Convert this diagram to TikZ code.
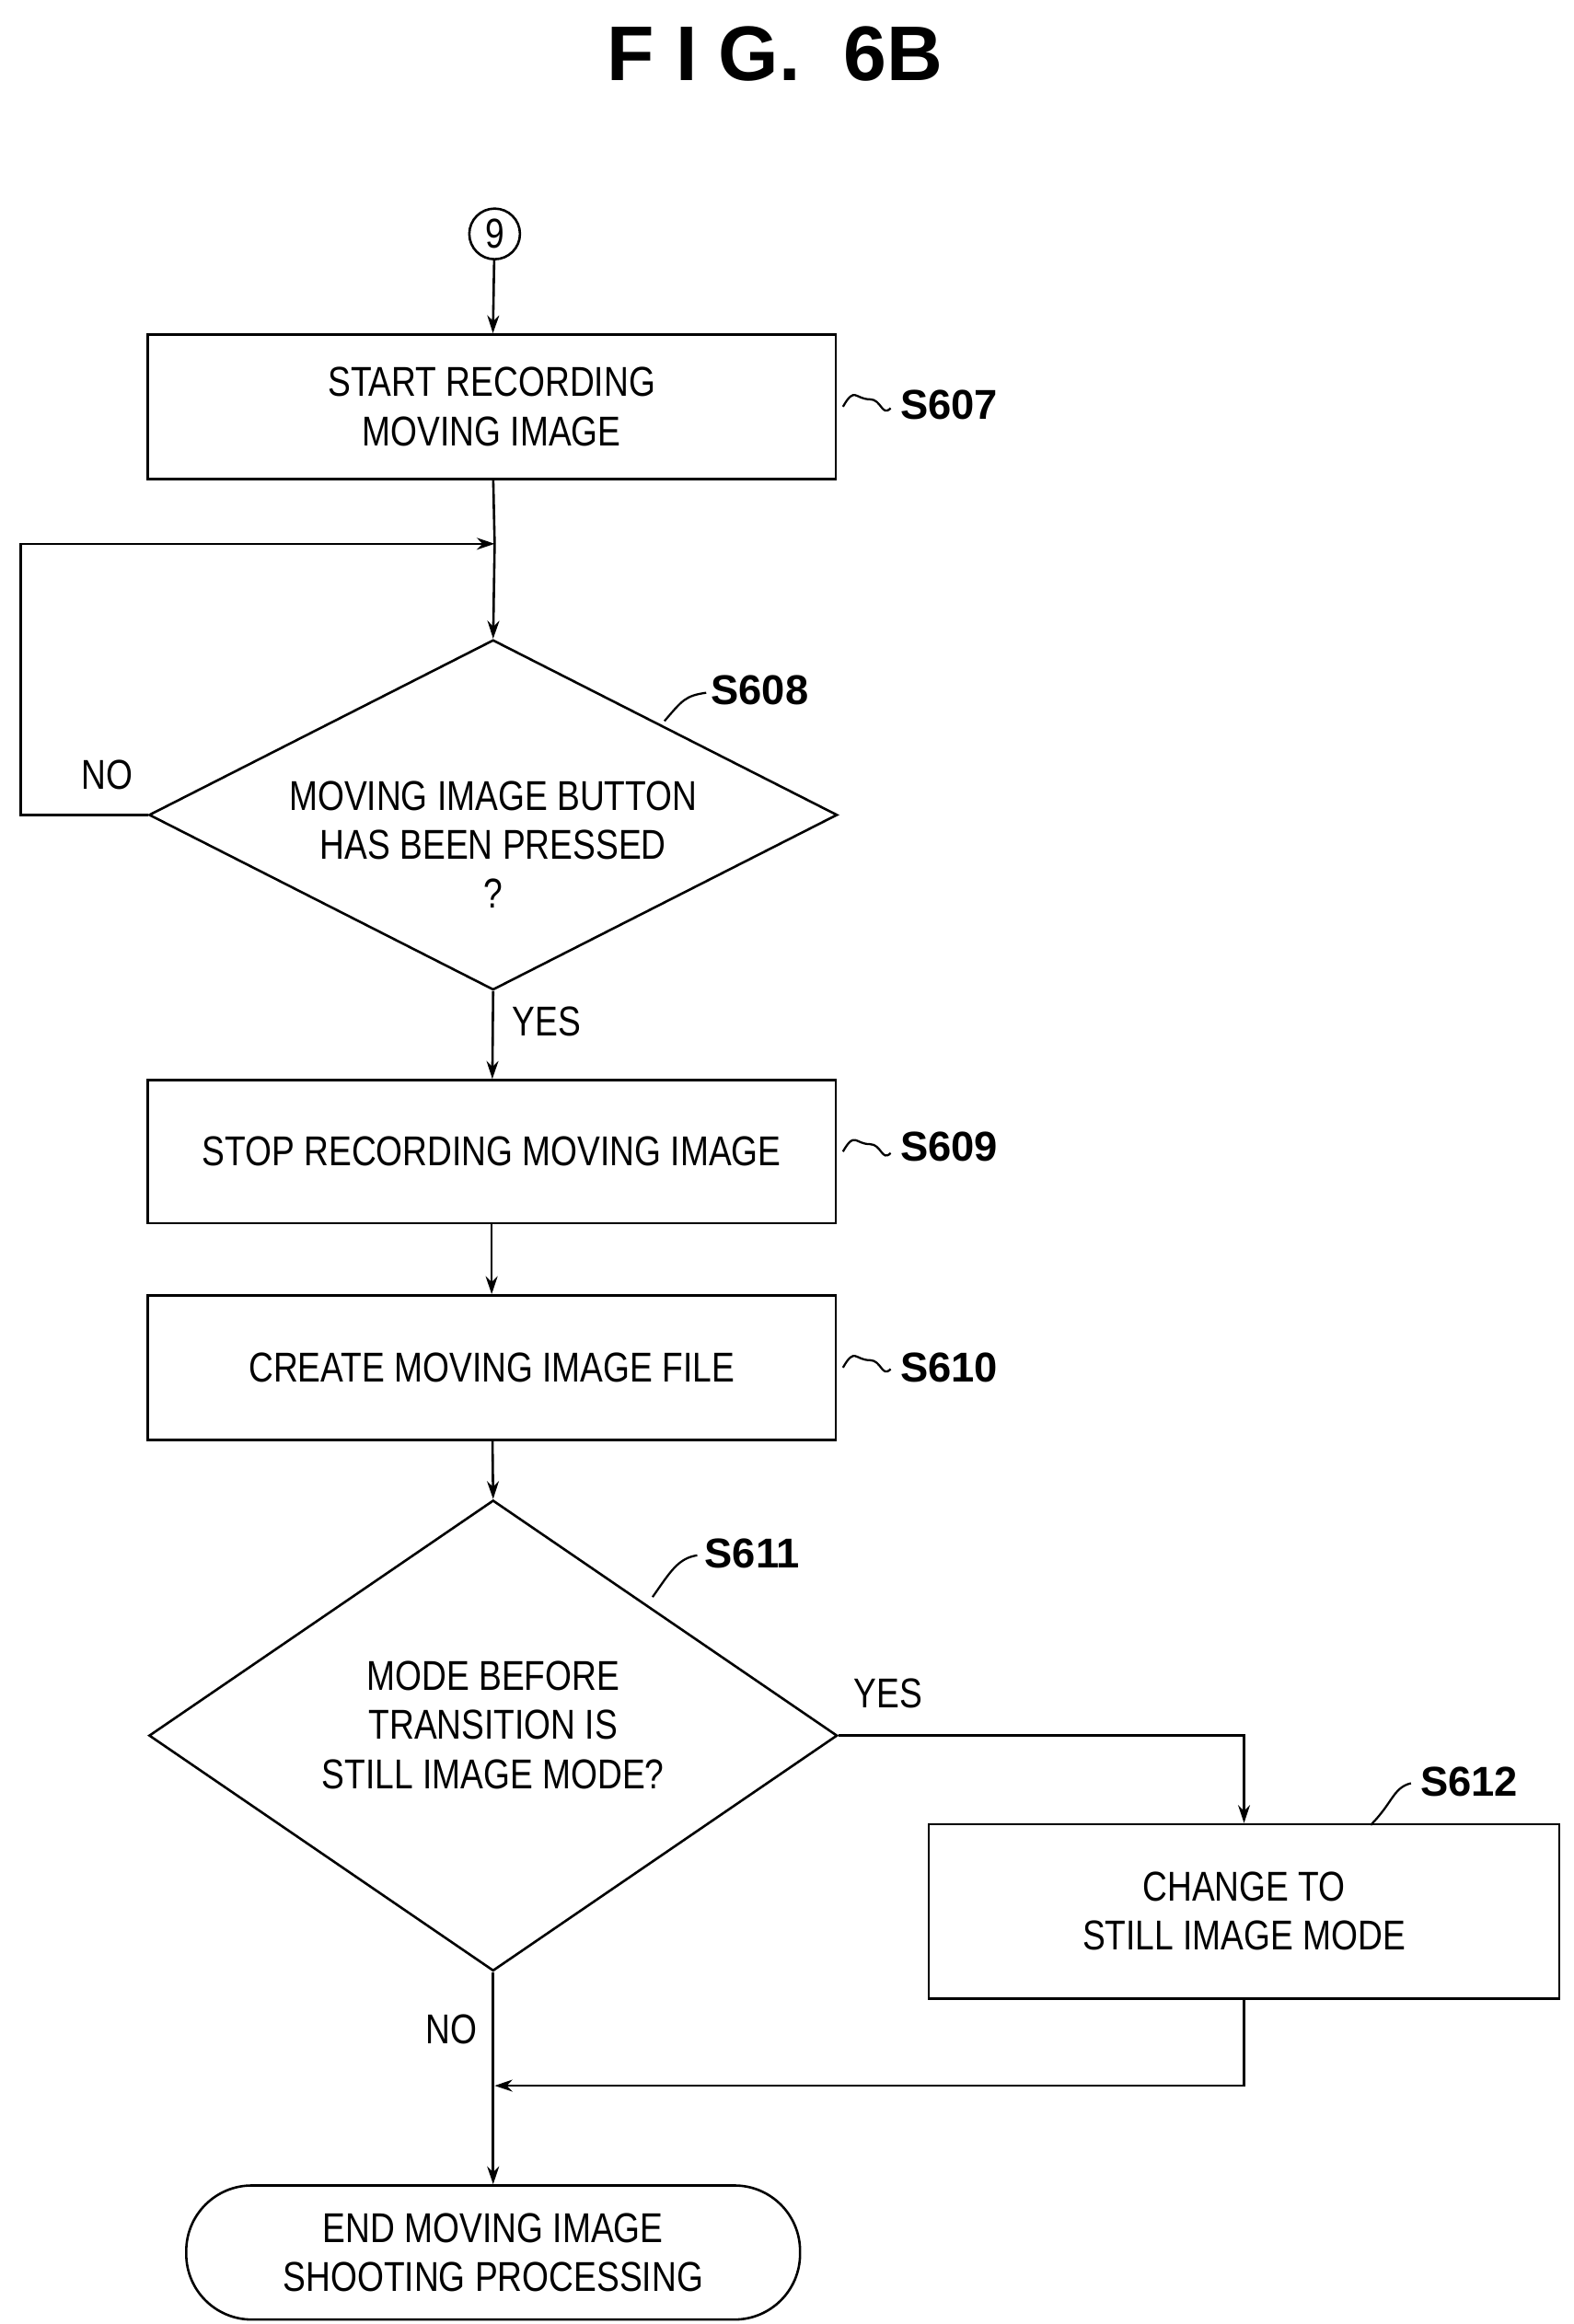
\documentclass[tikz,border=0pt]{standalone}
\usepackage{fontspec}
\setmainfont{Liberation Sans}[FakeStretch=0.82]
\newfontfamily\boldf{Liberation Sans}[FakeStretch=1.0]
\usetikzlibrary{shapes.geometric,arrows.meta}
\begin{document}
\begin{tikzpicture}[x=0.5pt,y=-0.5pt,
  line width=0.8pt,
  arr/.style={-{Stealth[length=6pt,width=4pt]}},
  txt/.style={font=\fontsize{14}{16.5}\selectfont, align=center, inner sep=0},
  lab/.style={font=\boldf\bfseries\fontsize{14}{16}\selectfont, inner sep=0},
  sq/.style={line width=0.7pt}]
\useasboundingbox (0,0) rectangle (1056,1560);
\node[font=\boldf\bfseries\fontsize{26}{28}\selectfont] (title) at (520,36) {F I G.\ \ 6B};
\node[draw,circle,minimum size=17pt,inner sep=0,font=\fontsize{14}{16}\selectfont] (c9) at (332,157) {9};
\node[draw,minimum width=231pt,minimum height=48.5pt,txt] (s607) at (330,273) {START RECORDING\\MOVING IMAGE};
\node[draw,diamond,aspect=1.96,minimum width=231pt,minimum height=117.5pt,inner sep=0] (s608) at (331,547) {};
\node[txt] at (331,567) {MOVING IMAGE BUTTON\\HAS BEEN PRESSED\\?};
\node[draw,minimum width=231pt,minimum height=48pt,txt] (s609) at (330,773) {STOP RECORDING MOVING IMAGE};
\node[draw,minimum width=231pt,minimum height=48.5pt,txt] (s610) at (330,918) {CREATE MOVING IMAGE FILE};
\node[draw,diamond,aspect=1.47,minimum width=231pt,minimum height=158pt,inner sep=0] (s611) at (331,1165) {};
\node[txt] at (331,1158) {MODE BEFORE\\TRANSITION IS\\STILL IMAGE MODE?};
\node[draw,minimum width=211.5pt,minimum height=58.5pt,txt] (s612) at (835,1283) {CHANGE TO\\STILL IMAGE MODE};
\node[draw,rounded corners=22pt,minimum width=206pt,minimum height=45pt,txt] (end) at (331,1512) {END MOVING IMAGE\\SHOOTING PROCESSING};
% step labels
\node[lab] (l607) at (637,272) {S607};
\node[lab] (l609) at (637,770) {S609};
\node[lab] (l610) at (637,918) {S610};
\node[lab] (l608) at (510,463) {S608};
\node[lab] (l611) at (505,1043) {S611};
\node[lab] (l612) at (986,1196) {S612};
\draw[sq] (s607.east) ++(4,0) .. controls +(8,-14) and +(-10,0) .. ++(18,-5) .. controls +(8,0) and +(-6,6) .. ++(14,6);
\draw[sq] (s609.east) ++(4,0) .. controls +(8,-14) and +(-10,0) .. ++(18,-5) .. controls +(8,0) and +(-6,6) .. ++(14,6);
\draw[sq] (s610.east) ++(4,0) .. controls +(8,-14) and +(-10,0) .. ++(18,-5) .. controls +(8,0) and +(-6,6) .. ++(14,6);
\draw[sq] (446,484) .. controls (458,470) and (460,467) .. (474,465);
\draw[sq] (438,1072) .. controls (450,1055) and (455,1046) .. (468,1044);
\draw[sq] (920,1225) .. controls (935,1210) and (935,1200) .. (947,1197);
% connectors
\coordinate (m1) at (332,365);
\coordinate (m2) at (332,1400);
\draw[arr] (c9) -- (s607);
\draw (s607) -- (m1);
\draw[arr] (m1) -- (s608.north);
\draw[arr] (s608.west) -- (14,547) -- (14,365) -- (m1);
\node[txt] at (72,520) {NO};
\draw[arr] (s608.south) -- (s609);
\node[txt] at (367,686) {YES};
\draw[arr] (s609) -- (s610);
\draw[arr] (s610) -- (s611.north);
\draw[arr] (s611.east) -| (s612.north);
\node[txt] at (596,1137) {YES};
\draw[arr] (s612.south) |- (m2);
\draw[arr] (s611.south) -- (end.north);
\node[txt] at (303,1362) {NO};
\end{tikzpicture}
\end{document}
